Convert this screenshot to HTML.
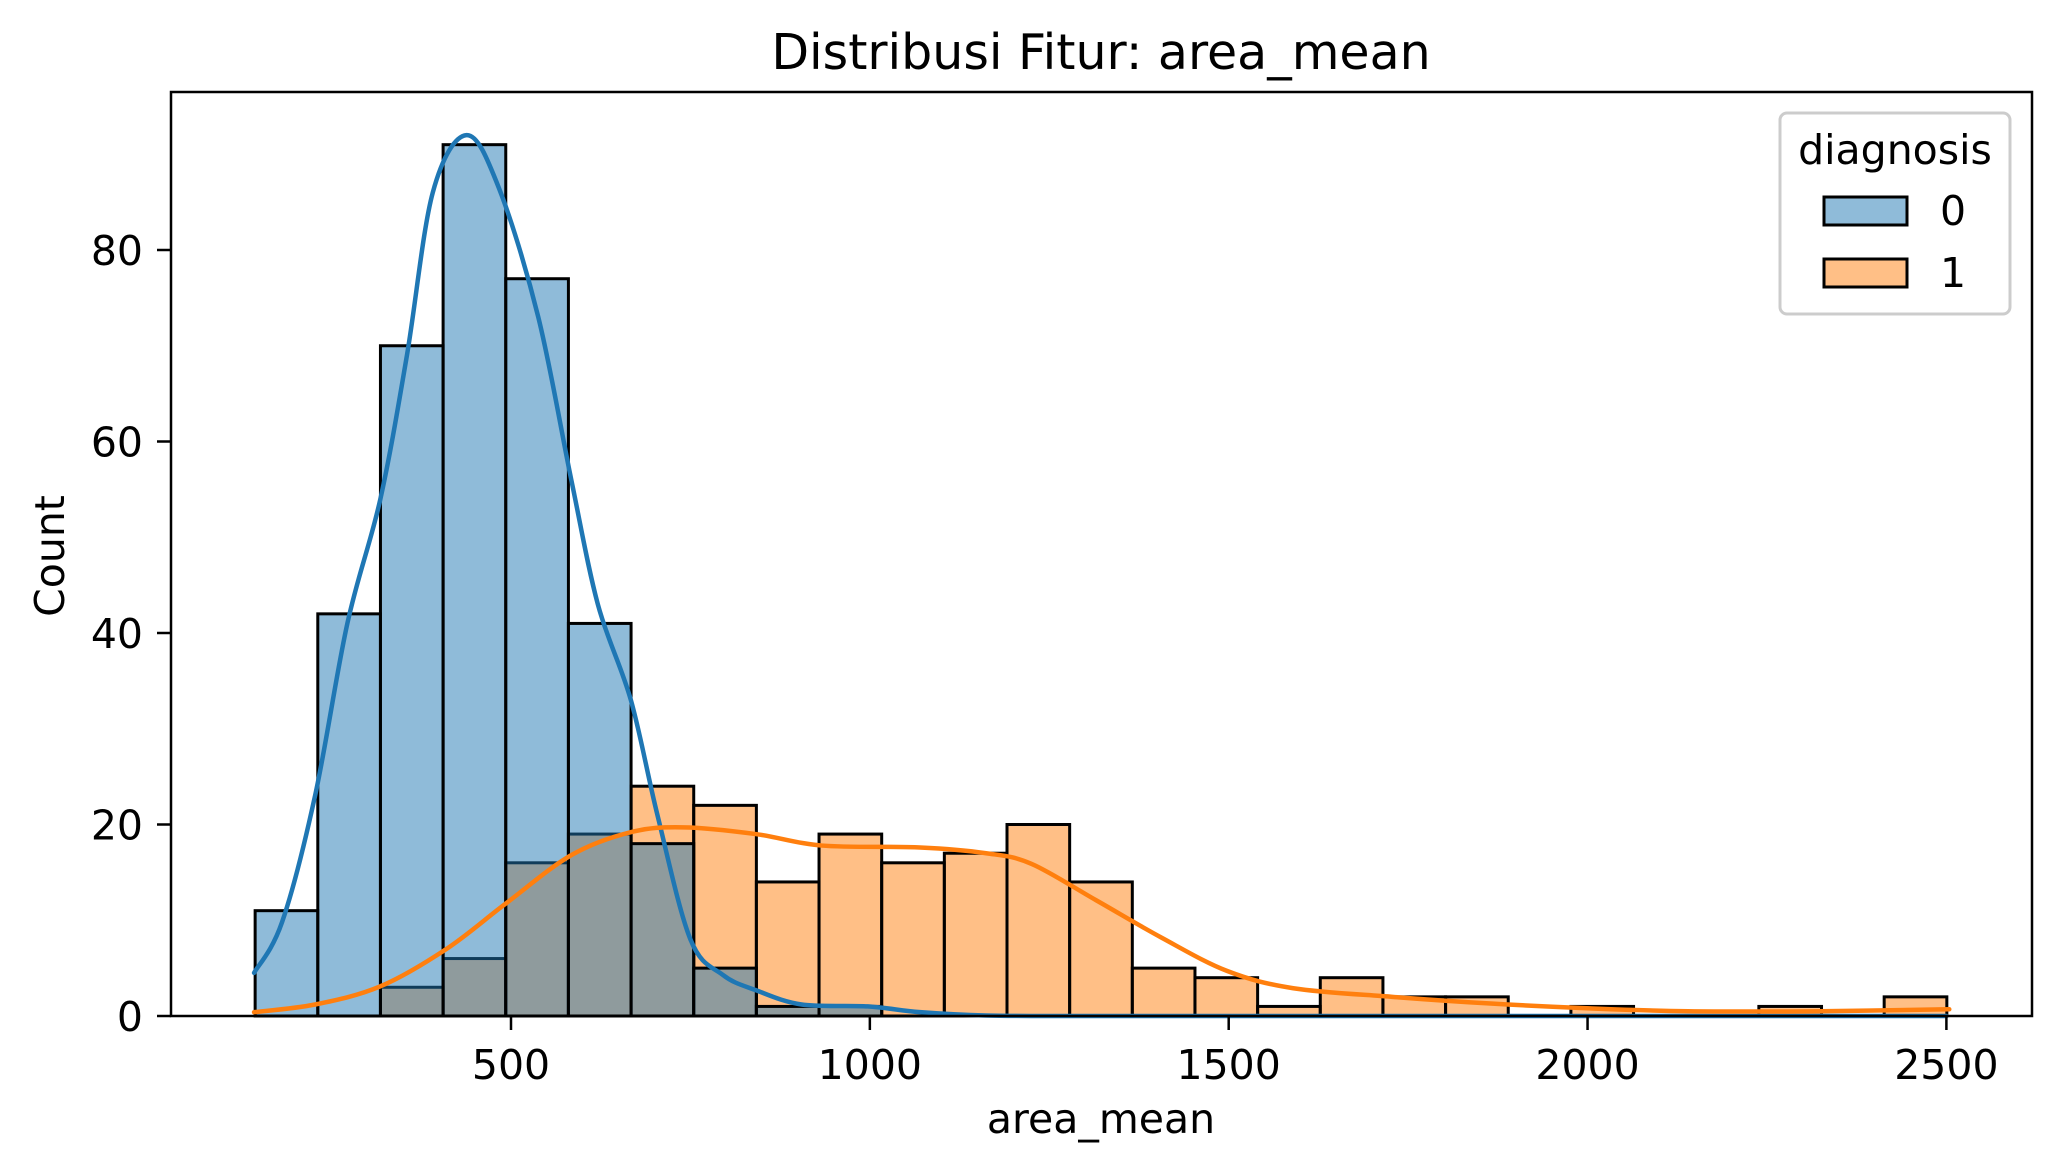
<!DOCTYPE html>
<html><head><meta charset="utf-8"><style>
html,body{margin:0;padding:0;background:#fff;}
svg{display:block;font-family:"DejaVu Sans","Liberation Sans",sans-serif;}
</style></head><body>
<svg id="chart" width="2060" height="1176" viewBox="0 0 2060 1176" xmlns="http://www.w3.org/2000/svg">
<rect width="2060" height="1176" fill="#fff"/>
<g id="bars"></g>
<g id="kde"></g>
<rect x="171" y="92" width="1861" height="924" fill="none" stroke="#000" stroke-width="2.5"/>
<g id="ticks"></g>
<text x="1101" y="69" font-size="49" text-anchor="middle">Distribusi Fitur: area_mean</text>
<text x="1101" y="1133" font-size="41" text-anchor="middle">area_mean</text>
<text transform="translate(64,556) rotate(-90)" font-size="41" text-anchor="middle">Count</text>
<g>
<rect x="1780" y="113" width="230" height="201" rx="7" fill="#fff" fill-opacity="0.8" stroke="#ccc" stroke-width="3"/>
<text x="1895" y="164" font-size="41" text-anchor="middle">diagnosis</text>
<rect x="1824" y="197" width="83" height="28" fill="#1f77b4" fill-opacity="0.5" stroke="#000" stroke-width="3"/>
<text x="1940" y="225" font-size="41">0</text>
<rect x="1824" y="259" width="83" height="28" fill="#ff7f0e" fill-opacity="0.5" stroke="#000" stroke-width="3"/>
<text x="1940" y="287" font-size="41">1</text>
</g>
</svg>
<script>
const binStart = 143.5;
const binWidth = 87.3;
const counts0 = [11,42,70,91,77,41,18,5,1,1,0,0,0,0,0,0,0,0,0,0,0,0,0,0,0,0,0];
const counts1 = [0,0,3,6,16,19,24,22,14,19,16,17,20,14,5,4,1,4,2,2,0,1,0,0,1,0,2];
const kde0X = [142,181,227,272,318,355,391,438,483,538,584,621,667,704,750,795,841,905,997,1070,1162,1300,1600,2000,2500];
const kde0Y = [4.5,9.8,23,41,54,69,86,92,86.5,73,56,43,33,21,8,4.3,2.7,1.2,1,0.4,0.05,0,0,0,0];
const kde1X = [142,227,318,410,492,584,667,740,841,933,1070,1162,1225,1315,1406,1498,1590,1728,1865,2003,2140,2324,2504];
const kde1Y = [0.4,1.2,3.1,7,11.7,16.8,19.2,19.7,19,17.8,17.6,17,15.9,12.1,8.2,4.7,2.9,2,1.3,0.8,0.5,0.5,0.7];
const xTicks = [500,1000,1500,2000,2500];
const yTicks = [0,20,40,60,80];

const NS = "http://www.w3.org/2000/svg";
function xs(v){return 511 + (v-500)*0.7177;}
function ys(c){return 1016 - c*9.575;}
function mk(tag, attrs, parent){
  const e = document.createElementNS(NS, tag);
  for (const k in attrs) e.setAttribute(k, attrs[k]);
  parent.appendChild(e);
  return e;
}
const bars = document.getElementById('bars');
function drawBars(counts, color, name){
  counts.forEach((c,i)=>{
    if (c<=0) return;
    const x0 = xs(binStart+i*binWidth), x1 = xs(binStart+(i+1)*binWidth);
    const r = mk('rect',{x:x0,y:ys(c),width:x1-x0,height:ys(0)-ys(c),fill:color,'fill-opacity':0.5,stroke:'#000','stroke-width':3}, bars);
    
    
  });
}
drawBars(counts1,'#ff7f0e','diagnosis-1');
drawBars(counts0,'#1f77b4','diagnosis-0');

const kde = document.getElementById('kde');
function drawLine(X,Y,color,name){
  const pts = X.map((x,i)=>[xs(x),ys(Y[i])]);
  let d = 'M'+pts[0][0]+','+pts[0][1];
  for (let i=0;i<pts.length-1;i++){
    const p0=pts[Math.max(0,i-1)],p1=pts[i],p2=pts[i+1],p3=pts[Math.min(pts.length-1,i+2)];
    const c1x=p1[0]+(p2[0]-p0[0])/6,c1y=p1[1]+(p2[1]-p0[1])/6;
    const c2x=p2[0]-(p3[0]-p1[0])/6,c2y=p2[1]-(p3[1]-p1[1])/6;
    d+=' C'+c1x+','+c1y+' '+c2x+','+c2y+' '+p2[0]+','+p2[1];
  }
  const p = mk('path',{d:d,fill:'none',stroke:color,'stroke-width':4.5,'stroke-linejoin':'round','stroke-linecap':'round'},kde);
  
  
}
drawLine(kde0X,kde0Y,'#1f77b4','kde-line-0');
drawLine(kde1X,kde1Y,'#ff7f0e','kde-line-1');

const ticks = document.getElementById('ticks');
xTicks.forEach(v=>{
  const l = mk('line',{x1:xs(v),x2:xs(v),y1:1016,y2:1030,stroke:'#000','stroke-width':2.5},ticks);
  
  
  const t = mk('text',{x:xs(v),y:1079,'font-size':41,'text-anchor':'middle'},ticks);
  t.textContent = v;
  
  
});
yTicks.forEach(v=>{
  const l = mk('line',{x1:157,x2:171,y1:ys(v),y2:ys(v),stroke:'#000','stroke-width':2.5},ticks);
  
  
  const t = mk('text',{x:143,y:ys(v)+15,'font-size':41,'text-anchor':'end'},ticks);
  t.textContent = v;
  
  
});
</script>
</body></html>
